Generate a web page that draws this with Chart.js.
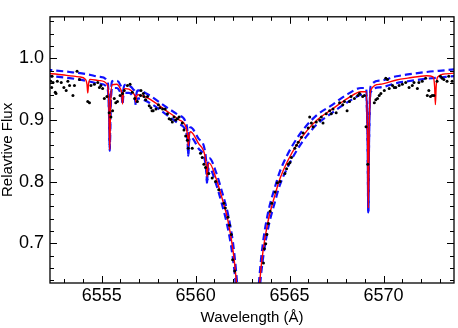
<!DOCTYPE html>
<html>
<head>
<meta charset="utf-8">
<script src="https://cdn.jsdelivr.net/npm/chart.js@4/dist/chart.umd.min.js"></script>
<style>
html,body{margin:0;padding:0;background:#fff;}
#wrap{width:458px;height:328px;}
</style>
</head>
<body>
<div id="wrap"><canvas id="c" width="458" height="328"></canvas></div>
<script>
// ---------- DATA ----------
const xTickValues = [6555, 6560, 6565, 6570];
const yTickValues = [0.7, 0.8, 0.9, 1.0];

// observed spectrum (black dots)
const obsWave = [6552.29,6552.34,6552.36,6552.41,6552.53,6552.57,6552.64,6552.85,6552.99,6553.11,6553.20,6553.29,6553.47,6553.55,6553.69,6553.82,
6554.26,6554.35,6554.43,6554.61,6554.79,6554.88,6554.96,6555.05,6555.14,6555.28,6555.40,6555.49,6555.58,6555.67,6555.75,6555.84,6555.98,
6556.11,6556.20,6556.37,6556.51,6556.63,6556.76,6556.90,6557.07,6557.09,6557.22,6557.25,6557.34,6557.44,6557.53,6557.62,6557.68,6557.74,6557.89,
6558.02,6558.10,6558.24,6558.38,6558.50,6558.59,6558.68,6558.76,6558.85,6558.94,6559.03,6559.12,6559.29,6559.38,6559.47,6559.56,6559.61,6559.82,
6560.26,6560.35,6560.44,6560.53,6560.70,6560.88,6561.06,6561.23,6561.50,6561.58,6561.72,6561.80,6561.90,6561.97,6562.08,
6563.61,6563.66,6563.73,6563.79,6563.87,6563.96,6564.05,6564.23,6564.35,6564.49,6564.75,6564.84,6564.93,6565.02,6565.10,6565.28,6565.37,6565.46,
6565.63,6565.72,6565.99,6566.07,6566.16,6566.25,6566.42,6566.60,6566.69,6566.78,6566.95,6567.13,6567.22,6567.31,6567.48,6567.66,6567.83,6567.92,6568.06,
6568.19,6568.27,6568.45,6568.63,6568.72,6568.89,6568.98,6569.07,6569.16,6569.51,6569.59,6569.68,6569.77,6569.86,6570.04,6570.12,6570.21,6570.30,
6570.48,6570.57,6570.65,6570.83,6571.00,6571.18,6571.36,6571.53,6571.62,6571.80,6571.88,6572.06,6572.24,6572.33,6572.41,6572.50,6572.59,6572.68,
6572.85,6573.03,6573.12,6573.21,6573.38,6573.47,6573.65];
const obsFlux = [0.963,0.953,0.971,0.961,0.945,0.943,0.963,0.961,0.953,0.948,0.963,0.956,0.940,0.956,0.979,0.966,
0.930,0.928,0.956,0.958,0.961,0.953,0.956,0.951,0.935,0.938,0.912,0.905,0.915,0.935,0.928,0.930,0.940,
0.943,0.948,0.956,0.958,0.945,0.935,0.930,0.940,0.948,0.943,0.938,0.933,0.938,0.923,0.920,0.915,0.915,0.918,
0.925,0.920,0.918,0.918,0.910,0.902,0.901,0.897,0.905,0.900,0.902,0.905,0.895,0.884,0.874,0.867,0.854,0.854,
0.846,0.839,0.828,0.823,0.813,0.806,0.800,0.787,0.765,0.757,0.742,0.729,0.714,0.673,0.655,
0.668,0.691,0.699,0.714,0.732,0.752,0.765,0.783,0.798,0.800,0.813,0.821,0.828,0.831,0.839,0.854,0.859,0.864,
0.872,0.879,0.887,0.905,0.895,0.889,0.897,0.900,0.905,0.895,0.910,0.915,0.910,0.918,0.912,0.928,0.925,0.930,0.915,
0.930,0.938,0.935,0.940,0.943,0.938,0.940,0.889,0.828,0.928,0.933,0.935,0.940,0.943,0.948,0.968,0.966,0.951,
0.956,0.953,0.953,0.956,0.958,0.961,0.953,0.956,0.961,0.951,0.961,0.963,0.968,0.940,0.948,0.938,0.940,0.940,
0.963,0.971,0.968,0.966,0.963,0.971,0.963];

// model (red solid)
const redWave = [6552.00,6553.00,6553.80,6554.14,6554.22,6554.26,6554.30,6554.38,6554.89,
6555.31,6555.39,6555.43,6555.47,6555.55,6555.80,6555.99,6556.07,6556.11,6556.15,6556.23,6556.45,
6556.70,6556.78,6556.82,6556.86,6556.94,6557.49,6558.39,6559.09,6559.49,6559.57,6559.61,6559.65,6559.73,6560.15,
6560.49,6560.57,6560.61,6560.65,6560.73,6561.09,6561.36,6561.73,6562.00,6562.16,6562.29,6562.49,6562.79,
6563.09,6563.29,6563.42,6563.58,6563.85,6564.22,6564.49,6564.89,6565.43,6565.96,6566.49,6567.19,6568.09,6568.80,
6569.07,6569.15,6569.19,6569.23,6569.31,6569.79,6570.69,6571.29,6572.29,6572.64,6572.72,6572.76,6572.80,6572.88,6573.33,6574.00];
const redFlux = [0.976,0.973,0.970,0.966,0.958,0.944,0.958,0.966,0.964,
0.957,0.918,0.852,0.918,0.957,0.958,0.951,0.943,0.926,0.943,0.951,0.950,
0.943,0.938,0.929,0.938,0.941,0.935,0.916,0.901,0.888,0.875,0.858,0.873,0.881,0.862,
0.843,0.826,0.808,0.823,0.830,0.805,0.778,0.735,0.686,0.640,0.580,0.450,0.300,
0.450,0.580,0.640,0.686,0.735,0.778,0.805,0.833,0.862,0.884,0.901,0.916,0.935,0.946,
0.946,0.873,0.757,0.873,0.948,0.958,0.965,0.968,0.972,0.970,0.954,0.925,0.954,0.970,0.975,0.977];

// comparison models (blue dashed)
const blueWave = [6552.00,6553.30,6554.29,6554.89,6555.31,6555.39,6555.43,6555.47,6555.55,6555.80,
6555.99,6556.07,6556.11,6556.15,6556.23,6556.45,6556.70,6556.78,6556.82,6556.86,6556.94,6557.49,6558.39,6559.09,
6559.49,6559.57,6559.61,6559.65,6559.73,6560.15,6560.49,6560.57,6560.61,6560.65,6560.73,6561.09,6561.36,6561.73,
6562.00,6562.16,6562.29,6562.49,6562.79,6563.09,6563.29,6563.42,6563.58,6563.85,6564.22,6564.49,6564.89,6565.43,
6565.96,6566.49,6567.19,6568.09,6568.80,6569.07,6569.15,6569.19,6569.23,6569.31,6569.79,6570.69,6571.29,6572.29,6573.33,6574.00];
const blueFluxA = [0.982,0.978,0.974,0.970,0.963,0.920,0.850,0.920,0.963,0.964,
0.957,0.948,0.930,0.948,0.957,0.956,0.949,0.944,0.932,0.944,0.948,0.941,0.922,0.908,
0.895,0.878,0.845,0.876,0.888,0.870,0.851,0.828,0.797,0.826,0.838,0.815,0.788,0.746,
0.698,0.652,0.600,0.470,0.320,0.470,0.600,0.654,0.700,0.749,0.791,0.817,0.844,0.872,
0.893,0.909,0.923,0.942,0.952,0.952,0.870,0.750,0.870,0.954,0.964,0.971,0.974,0.978,0.981,0.983];
const blueFluxB = [0.972,0.968,0.963,0.959,0.952,0.912,0.855,0.912,0.952,0.952,
0.945,0.938,0.925,0.938,0.944,0.944,0.937,0.932,0.923,0.931,0.935,0.929,0.910,0.894,
0.881,0.866,0.842,0.864,0.872,0.854,0.835,0.815,0.799,0.813,0.822,0.796,0.768,0.722,
0.672,0.625,0.565,0.440,0.300,0.440,0.565,0.628,0.674,0.723,0.767,0.795,0.823,0.853,
0.876,0.894,0.910,0.929,0.941,0.942,0.865,0.752,0.865,0.945,0.953,0.960,0.963,0.967,0.970,0.972];

// ---------- CHART ----------
const pts = (xs, ys) => xs.map((x, i) => ({x: x, y: ys[i]}));
const FONT = "'Liberation Sans', Arial, Helvetica, sans-serif";

const frameTicks = {
  id: 'frameTicks',
  afterDatasetsDraw(chart) {
    const ctx = chart.ctx, a = chart.chartArea;
    const xs = chart.scales.x, ys = chart.scales.y;
    ctx.save();
    ctx.strokeStyle = '#000';
    ctx.lineWidth = 1;
    ctx.beginPath();
    const tick = (x1, y1, x2, y2) => { ctx.moveTo(x1, y1); ctx.lineTo(x2, y2); };
    for (let v = Math.ceil(xs.min); v <= xs.max; v += 1) {
      const p = Math.round(xs.getPixelForValue(v)) + 0.5;
      const L = (v % 5 === 0) ? 7 : 4;
      tick(p, a.bottom, p, a.bottom - L);
      tick(p, a.top, p, a.top + L);
    }
    for (let k = Math.ceil(ys.min * 50); k <= Math.floor(ys.max * 50); k++) {
      const v = k / 50;
      const p = Math.round(ys.getPixelForValue(v)) + 0.5;
      const L = (k % 5 === 0) ? 7 : 4;
      tick(a.left, p, a.left + L, p);
      tick(a.right, p, a.right - L, p);
    }
    ctx.stroke();
    ctx.lineWidth = 1.3;
    ctx.strokeRect(a.left, a.top, a.right - a.left, a.bottom - a.top);
    ctx.restore();
  }
};

new Chart(document.getElementById('c'), {
  type: 'line',
  data: {
    datasets: [
      { label: 'obs', data: pts(obsWave, obsFlux), showLine: false, pointRadius: 1.5,
        pointBackgroundColor: '#000', pointBorderWidth: 0, borderColor: '#000', order: 0 },
      { label: 'model', data: pts(redWave, redFlux), borderColor: '#ff0000', borderWidth: 1.4,
        pointRadius: 0, cubicInterpolationMode: 'monotone', fill: false, order: 1 },
      { label: 'blueA', data: pts(blueWave, blueFluxA), borderColor: '#1010ff', borderWidth: 2.2,
        borderDash: [7, 4], pointRadius: 0, cubicInterpolationMode: 'monotone', fill: false, order: 2 },
      { label: 'blueB', data: pts(blueWave, blueFluxB), borderColor: '#1010ff', borderWidth: 2.2,
        borderDash: [7, 4], pointRadius: 0, cubicInterpolationMode: 'monotone', fill: false, order: 3 }
    ]
  },
  options: {
    responsive: false,
    animation: false,
    devicePixelRatio: 1,
    layout: { padding: { top: 1, right: 1, left: 0, bottom: 0 } },
    plugins: { legend: { display: false }, tooltip: { enabled: false } },
    scales: {
      x: {
        type: 'linear', min: 6552.25, max: 6573.75,
        afterBuildTicks: s => { s.ticks = xTickValues.map(v => ({ value: v })); },
        afterFit: s => { s.height = 45; },
        grid: { display: false, drawTicks: false },
        border: { display: false },
        ticks: { color: '#000', font: { family: FONT, size: 18 }, padding: 2, maxRotation: 0, autoSkip: false,
                 callback: v => String(v) },
        title: { display: true, text: 'Wavelength (Å)', color: '#000',
                 font: { family: FONT, size: 15, lineHeight: 1 }, padding: { top: 0, bottom: 3 } }
      },
      y: {
        type: 'linear', min: 0.6354, max: 1.0676,
        afterBuildTicks: s => { s.ticks = yTickValues.map(v => ({ value: v })); },
        afterFit: s => { s.width = 50; },
        grid: { display: false, drawTicks: false },
        border: { display: false },
        ticks: { color: '#000', font: { family: FONT, size: 18 }, padding: 6, autoSkip: false,
                 callback: v => Number(v).toFixed(1) },
        title: { display: true, text: 'Relavtive Flux', color: '#000',
                 font: { family: FONT, size: 15, lineHeight: 1 }, padding: { top: 0, bottom: 0 } }
      }
    }
  },
  plugins: [frameTicks]
});
</script>
</body>
</html>
